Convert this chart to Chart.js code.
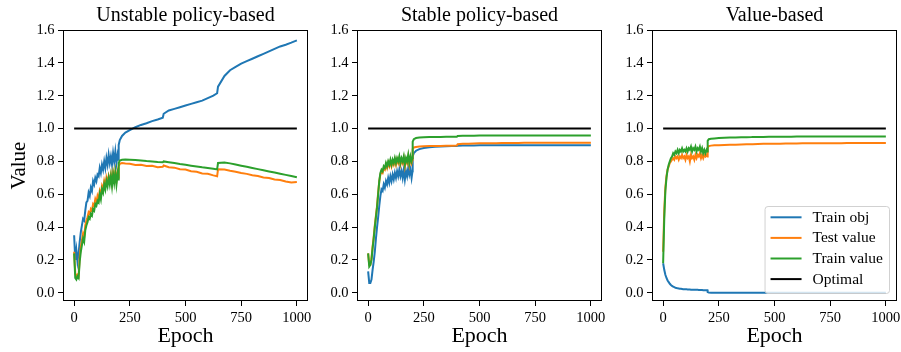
<!DOCTYPE html>
<html>
<head>
<meta charset="utf-8">
<script src="https://cdn.jsdelivr.net/npm/chart.js@4.4.1/dist/chart.umd.min.js"></script>
<style>
  html, body { margin: 0; padding: 0; background: #fff; }
  #fig { position: relative; width: 901px; height: 352px; overflow: hidden; }
  #fig canvas { position: absolute; top: 0; }
</style>
</head>
<body>
<div id="fig">
  <canvas id="unstable" width="328" height="352" style="left:0px"></canvas>
  <canvas id="stable" width="328" height="352" style="left:294px"></canvas>
  <canvas id="value" width="328" height="352" style="left:589px"></canvas>
</div>
<script>
// epochs sampled from the curves (denser while the runs are noisy)
const epochs = [0, 5, 10, 15, 20, 25, 30, 35, 40, 45, 50, 55, 60, 65, 70, 75, 80, 85, 90, 95,
  100, 105, 110, 115, 120, 125, 130, 135, 140, 145, 150, 155, 160, 165, 170, 175, 180, 185, 190, 195, 199,
  200, 205, 215, 230, 250, 275, 300, 325, 350, 375, 398, 402, 425, 450, 475, 500, 525, 550, 575, 600, 625,
  642, 646, 675, 700, 725, 750, 775, 800, 825, 850, 875, 900, 925, 950, 975, 1000];

const optimalEpochs = [0, 1000];
const optimalValues = [1.0, 1.0];

const xTickValues = [0, 250, 500, 750, 1000];
const yTickValues = [0.0, 0.2, 0.4, 0.6, 0.8, 1.0, 1.2, 1.4, 1.6];

const seriesNames = ["Train obj", "Test value", "Train value", "Optimal"];
const panelTitles = ["Unstable policy-based", "Stable policy-based", "Value-based"];

// Unstable policy-based
const unstableObj = [0.35, 0.20, 0.26, 0.19, 0.24, 0.31, 0.37, 0.41, 0.45, 0.44,
  0.50, 0.55, 0.56, 0.61, 0.59, 0.64, 0.62, 0.68, 0.66, 0.70,
  0.68, 0.72, 0.71, 0.76, 0.73, 0.78, 0.75, 0.80, 0.76, 0.82,
  0.78, 0.84, 0.79, 0.83, 0.78, 0.85, 0.80, 0.86, 0.79, 0.84, 0.81,
  0.90, 0.93, 0.955, 0.975, 0.99, 1.008, 1.022, 1.032, 1.045, 1.055, 1.066, 1.09,
  1.11, 1.12, 1.13, 1.14, 1.15, 1.16, 1.17, 1.185, 1.20, 1.215, 1.255,
  1.32, 1.355, 1.375, 1.395, 1.41, 1.425, 1.44, 1.455, 1.47, 1.485, 1.50, 1.51, 1.523, 1.537];
const unstableTest = [0.25, 0.12, 0.10, 0.11, 0.10, 0.22, 0.28, 0.32, 0.36, 0.34,
  0.41, 0.44, 0.46, 0.49, 0.48, 0.51, 0.50, 0.54, 0.53, 0.57,
  0.55, 0.59, 0.57, 0.62, 0.60, 0.65, 0.63, 0.68, 0.65, 0.70,
  0.67, 0.71, 0.68, 0.72, 0.67, 0.73, 0.69, 0.74, 0.68, 0.73, 0.70,
  0.77, 0.785, 0.79, 0.787, 0.785, 0.778, 0.78, 0.772, 0.774, 0.765, 0.767, 0.775,
  0.764, 0.762, 0.752, 0.75, 0.74, 0.737, 0.727, 0.725, 0.715, 0.71, 0.752,
  0.75, 0.743, 0.737, 0.729, 0.724, 0.716, 0.711, 0.702, 0.699, 0.69, 0.687, 0.678, 0.672, 0.675];
const unstableTrain = [0.24, 0.09, 0.08, 0.10, 0.09, 0.19, 0.25, 0.29, 0.33, 0.31,
  0.38, 0.41, 0.43, 0.46, 0.45, 0.48, 0.47, 0.51, 0.50, 0.54,
  0.53, 0.56, 0.55, 0.60, 0.57, 0.63, 0.61, 0.66, 0.63, 0.68,
  0.65, 0.70, 0.66, 0.71, 0.65, 0.72, 0.67, 0.73, 0.66, 0.72, 0.69,
  0.79, 0.805, 0.81, 0.812, 0.81, 0.808, 0.806, 0.802, 0.80, 0.797, 0.795, 0.80,
  0.795, 0.79, 0.784, 0.779, 0.774, 0.769, 0.764, 0.76, 0.755, 0.751, 0.79,
  0.793, 0.788, 0.781, 0.774, 0.767, 0.76, 0.753, 0.746, 0.739, 0.732, 0.725, 0.718, 0.711, 0.704];

// Stable policy-based
const stableObj = [0.13, 0.06, 0.06, 0.08, 0.14, 0.19, 0.25, 0.33, 0.40, 0.46,
  0.53, 0.59, 0.63, 0.62, 0.66, 0.64, 0.68, 0.66, 0.70, 0.67,
  0.71, 0.68, 0.72, 0.69, 0.73, 0.70, 0.74, 0.71, 0.75, 0.71,
  0.74, 0.70, 0.75, 0.69, 0.74, 0.71, 0.76, 0.72, 0.75, 0.70, 0.74,
  0.83, 0.85, 0.865, 0.875, 0.882, 0.886, 0.889, 0.891, 0.892, 0.893, 0.893, 0.896,
  0.897, 0.897, 0.897, 0.898, 0.898, 0.898, 0.898, 0.898, 0.898, 0.898, 0.898,
  0.898, 0.899, 0.899, 0.899, 0.899, 0.899, 0.899, 0.899, 0.899, 0.899, 0.899, 0.899, 0.899, 0.899];
const stableTest = [0.24, 0.17, 0.17, 0.21, 0.28, 0.34, 0.41, 0.47, 0.53, 0.61,
  0.68, 0.72, 0.74, 0.73, 0.76, 0.75, 0.78, 0.76, 0.79, 0.77,
  0.80, 0.77, 0.80, 0.78, 0.81, 0.78, 0.81, 0.79, 0.82, 0.78,
  0.81, 0.79, 0.82, 0.77, 0.81, 0.79, 0.83, 0.78, 0.82, 0.79, 0.81,
  0.875, 0.885, 0.888, 0.89, 0.892, 0.893, 0.894, 0.894, 0.895, 0.895, 0.896, 0.905,
  0.907, 0.908, 0.909, 0.91, 0.91, 0.911, 0.911, 0.912, 0.912, 0.912, 0.912,
  0.912, 0.913, 0.913, 0.913, 0.913, 0.914, 0.914, 0.914, 0.914, 0.914, 0.914, 0.914, 0.914, 0.914];
const stableTrain = [0.24, 0.16, 0.17, 0.20, 0.27, 0.33, 0.40, 0.46, 0.52, 0.60,
  0.68, 0.73, 0.75, 0.74, 0.77, 0.76, 0.79, 0.77, 0.80, 0.78,
  0.81, 0.78, 0.81, 0.79, 0.82, 0.79, 0.82, 0.80, 0.83, 0.79,
  0.82, 0.80, 0.83, 0.78, 0.82, 0.80, 0.84, 0.79, 0.83, 0.80, 0.82,
  0.92, 0.935, 0.942, 0.945, 0.947, 0.948, 0.949, 0.949, 0.95, 0.95, 0.95, 0.955,
  0.956, 0.956, 0.956, 0.957, 0.957, 0.957, 0.957, 0.957, 0.957, 0.957, 0.957,
  0.957, 0.958, 0.958, 0.958, 0.958, 0.958, 0.958, 0.958, 0.958, 0.958, 0.958, 0.958, 0.958, 0.958];

// Value-based
const valueObj = [0.18, 0.14, 0.11, 0.09, 0.075, 0.065, 0.055, 0.048, 0.042, 0.037,
  0.034, 0.031, 0.029, 0.027, 0.026, 0.025, 0.024, 0.023, 0.022, 0.022,
  0.021, 0.021, 0.020, 0.020, 0.020, 0.019, 0.019, 0.019, 0.018, 0.018,
  0.018, 0.018, 0.017, 0.017, 0.017, 0.017, 0.016, 0.016, 0.016, 0.016, 0.016,
  0.004, 0.001, 0.0, 0.0, 0.0, 0.0, 0.0, 0.0, 0.0, 0.0, 0.0, 0.0,
  0.0, 0.0, 0.0, 0.0, 0.0, 0.0, 0.0, 0.0, 0.0, 0.0, 0.0,
  0.0, 0.0, 0.0, 0.0, 0.0, 0.0, 0.0, 0.0, 0.0, 0.0, 0.0, 0.0, 0.0, 0.0];
const valueTest = [0.25, 0.50, 0.64, 0.71, 0.75, 0.77, 0.79, 0.80, 0.81, 0.82,
  0.81, 0.83, 0.82, 0.83, 0.81, 0.83, 0.82, 0.84, 0.82, 0.83,
  0.81, 0.84, 0.82, 0.83, 0.80, 0.84, 0.82, 0.83, 0.81, 0.84,
  0.82, 0.84, 0.83, 0.85, 0.82, 0.84, 0.82, 0.84, 0.83, 0.84, 0.83,
  0.885, 0.893, 0.896, 0.898, 0.899, 0.90, 0.901, 0.902, 0.903, 0.904, 0.905, 0.905,
  0.906, 0.907, 0.907, 0.908, 0.908, 0.909, 0.909, 0.909, 0.91, 0.91, 0.91,
  0.91, 0.911, 0.911, 0.911, 0.911, 0.911, 0.912, 0.912, 0.912, 0.912, 0.912, 0.912, 0.912, 0.912];
const valueTrain = [0.18, 0.45, 0.62, 0.70, 0.75, 0.78, 0.80, 0.82, 0.83, 0.85,
  0.84, 0.86, 0.85, 0.87, 0.85, 0.87, 0.86, 0.88, 0.86, 0.87,
  0.86, 0.88, 0.86, 0.88, 0.87, 0.89, 0.86, 0.88, 0.87, 0.89,
  0.86, 0.88, 0.87, 0.89, 0.86, 0.88, 0.85, 0.87, 0.85, 0.87, 0.86,
  0.925, 0.935, 0.938, 0.94, 0.942, 0.944, 0.945, 0.946, 0.947, 0.947, 0.948, 0.949,
  0.949, 0.949, 0.95, 0.95, 0.95, 0.95, 0.95, 0.951, 0.951, 0.951, 0.951,
  0.951, 0.951, 0.951, 0.951, 0.952, 0.952, 0.952, 0.952, 0.952, 0.952, 0.952, 0.952, 0.952, 0.952];

const FONT = '"Liberation Serif", "Times New Roman", serif';
Chart.defaults.font.family = FONT;
Chart.defaults.color = "#000";

function to_points(xs, ys) {
  return xs.map((x, i) => ({ x: x, y: ys[i] }));
}

// full box around the plot area, like matplotlib spines
const framePlugin = {
  id: "frame",
  afterDatasetsDraw(chart) {
    const a = chart.chartArea;
    const ctx = chart.ctx;
    ctx.save();
    ctx.strokeStyle = "#000";
    ctx.lineWidth = 1;
    ctx.strokeRect(Math.round(a.left) + 0.5, Math.round(a.top) + 0.5,
      Math.round(a.right - a.left) - 1, Math.round(a.bottom - a.top) - 1);
    ctx.restore();
  },
};

// legend in the lower right corner of the plot area
const cornerLegend = {
  id: "cornerLegend",
  afterDraw(chart, args, opts) {
    if (!opts.show) return;
    const ctx = chart.ctx;
    const a = chart.chartArea;
    const sets = chart.data.datasets;
    ctx.save();
    ctx.font = "15.5px " + FONT;
    const text_w = Math.max(...sets.map((d) => ctx.measureText(d.label).width));
    const row_h = 20.6;
    const w = 48 + text_w + 6;
    const h = sets.length * row_h + 4.6;
    const x = a.right - 8 - w;
    const y = a.bottom - 8 - h;
    ctx.beginPath();
    ctx.roundRect(x + 0.5, y + 0.5, w, h, 3);
    ctx.fillStyle = "rgba(255,255,255,0.8)";
    ctx.fill();
    ctx.strokeStyle = "rgba(204,204,204,0.9)";
    ctx.lineWidth = 1;
    ctx.stroke();
    sets.forEach((d, i) => {
      const cy = y + 11.3 + i * row_h;
      ctx.beginPath();
      ctx.moveTo(x + 6, cy);
      ctx.lineTo(x + 37, cy);
      ctx.strokeStyle = d.borderColor;
      ctx.lineWidth = 2;
      ctx.stroke();
      ctx.fillStyle = "#000";
      ctx.textBaseline = "middle";
      ctx.textAlign = "left";
      ctx.fillText(d.label, x + 48, cy + 0.5);
    });
    ctx.restore();
  },
};

function make_chart(canvas_id, title_text, obj, test, train, show_ylabel, show_legend) {
  return new Chart(document.getElementById(canvas_id), {
    type: "line",
    data: {
      datasets: [
        { label: seriesNames[0], data: to_points(epochs, obj), borderColor: "#1f77b4", order: 3 },
        { label: seriesNames[1], data: to_points(epochs, test), borderColor: "#ff7f0e", order: 2 },
        { label: seriesNames[2], data: to_points(epochs, train), borderColor: "#2ca02c", order: 1 },
        { label: seriesNames[3], data: to_points(optimalEpochs, optimalValues), borderColor: "#000000", order: 0 },
      ],
    },
    options: {
      responsive: false,
      animation: false,
      devicePixelRatio: 1,
      layout: { padding: { left: 0, right: 20, top: 0, bottom: 0 } },
      elements: {
        point: { radius: 0 },
        line: { borderWidth: 2, tension: 0, fill: false },
      },
      plugins: {
        legend: { display: false },
        tooltip: { enabled: false },
        title: {
          display: true,
          text: title_text,
          fullSize: false,
          color: "#000",
          font: { size: 20, weight: "normal" },
          padding: { top: 4, bottom: 2 },
        },
        cornerLegend: { show: show_legend },
      },
      scales: {
        x: {
          type: "linear",
          min: -50,
          max: 1050,
          afterBuildTicks: (s) => { s.ticks = xTickValues.map((v) => ({ value: v })); },
          afterFit: (s) => { s.height = 51; s.paddingLeft = 0; s.paddingRight = 0; },
          ticks: { autoSkip: false, maxRotation: 0, padding: 3, font: { size: 14.5 }, color: "#000",
            callback: (v) => String(v) },
          grid: { display: true, drawOnChartArea: false, drawTicks: true, tickLength: 5, tickColor: "#000" },
          border: { display: false },
          title: { display: true, text: "Epoch", color: "#000", font: { size: 22 }, padding: { top: 0, bottom: 3 } },
        },
        y: {
          type: "linear",
          min: -0.05,
          max: 1.6,
          afterBuildTicks: (s) => { s.ticks = yTickValues.map((v) => ({ value: v })); },
          afterFit: (s) => { s.width = 63; s.paddingTop = 0; s.paddingBottom = 0; },
          ticks: { autoSkip: false, padding: 3.5, font: { size: 14.5 }, color: "#000",
            callback: (v) => v.toFixed(1) },
          grid: { display: true, drawOnChartArea: false, drawTicks: true, tickLength: 5, tickColor: "#000" },
          border: { display: false },
          title: { display: show_ylabel, text: "Value", color: "#000", font: { size: 21 }, padding: { top: 7, bottom: 0 } },
        },
      },
    },
    plugins: [framePlugin, cornerLegend],
  });
}

make_chart("unstable", panelTitles[0], unstableObj, unstableTest, unstableTrain, true, false);
make_chart("stable", panelTitles[1], stableObj, stableTest, stableTrain, false, false);
make_chart("value", panelTitles[2], valueObj, valueTest, valueTrain, false, true);
</script>
</body>
</html>
